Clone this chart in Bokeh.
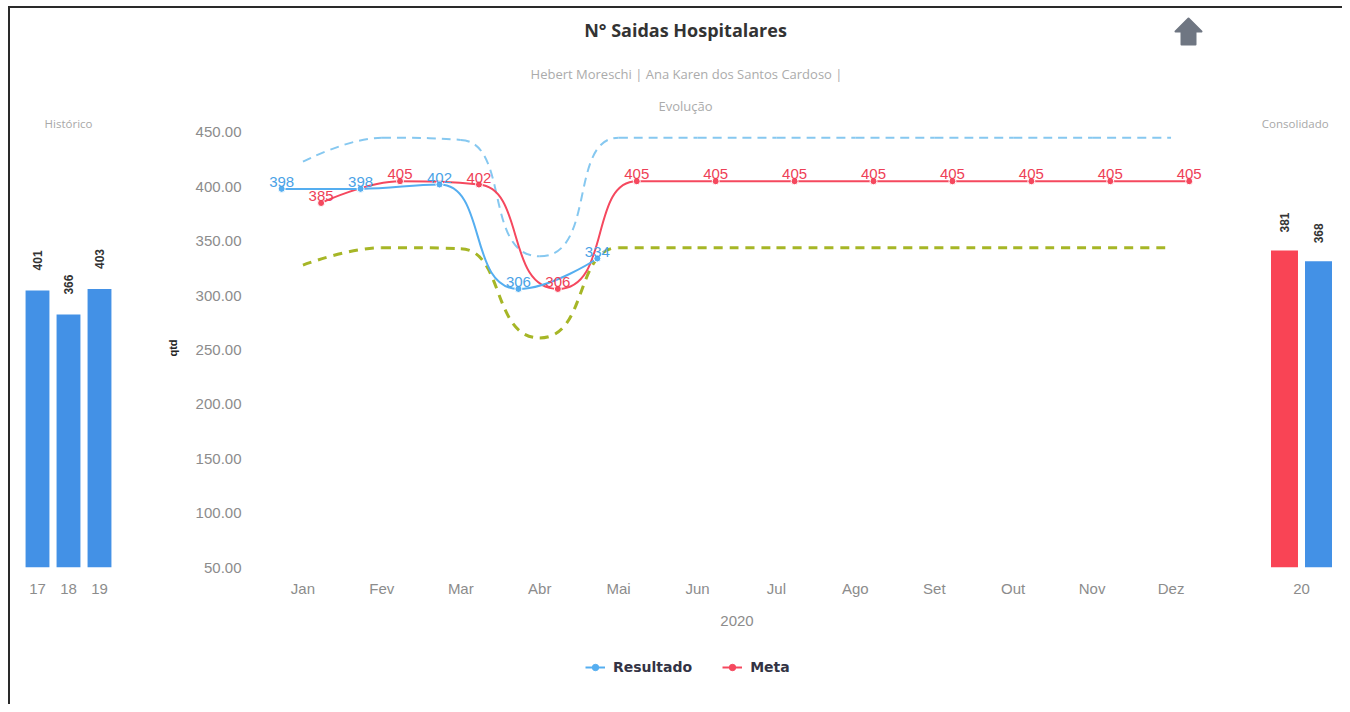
import math
from bokeh.plotting import figure
from bokeh.layouts import column, row
from bokeh.models import Range1d, FixedTicker, NumeralTickFormatter, Legend, LegendItem
from bokeh.core.properties import value
from bokeh.embed import file_html
from bokeh.resources import INLINE

# ---------------- data ----------------
months = ["Jan", "Fev", "Mar", "Abr", "Mai", "Jun", "Jul", "Ago", "Set", "Out", "Nov", "Dez"]
resultado = [398, 398, 402, 306, 334]
meta = [385, 405, 402, 306, 405, 405, 405, 405, 405, 405, 405, 405]
limite_sup = [423, 445, 443, 336, 445, 445, 445, 445, 445, 445, 445, 445]
limite_inf = [328, 344, 343, 261, 344, 344, 344, 344, 344, 344, 344, 344]
y_ticks = [50, 100, 150, 200, 250, 300, 350, 400, 450]

hist_anos = ["17", "18", "19"]
hist_valores = [401, 366, 403]

consol_ano = ["20"]
consol_meta = [381]
consol_resultado = [368]

title_txt = "N° Saidas Hospitalares"
subtitle_txt = "Hebert Moreschi | Ana Karen dos Santos Cardoso |"

# ---------------- styles ----------------
C_RES = "#55aef0"
C_META = "#f5485e"
C_SUP = "#86c8f0"
C_INF = "#a6b626"
C_BAR_BLUE = "#4391e6"
C_BAR_RED = "#f94455"
GRAY = "#8c8c8c"
FONT = value("Liberation Sans")

# geometry (px, page coordinates)
OX, OY = 10, 8          # content origin (after margin + border)
FRAME_TOP = 128
FRAME_BOT = 567
ROW_TOP = 117
ROW_BOT = 704
ROW_H = ROW_BOT - ROW_TOP
LEG_TOP = 640
SPLIT_L = 150
SPLIT_R = 1240
FRAME_L = 263
FRAME_R = 1210


def spline(xs, ys, sx, sy, smoothing=1.5):
    P = [(x * sx, y * sy) for x, y in zip(xs, ys)]
    n = len(P)
    L = [None] * n
    R = [None] * n
    d = smoothing + 1
    for i in range(1, n - 1):
        lx, ly = P[i - 1]
        px, py = P[i]
        nx, ny = P[i + 1]
        lcx = (smoothing * px + lx) / d
        lcy = (smoothing * py + ly) / d
        rcx = (smoothing * px + nx) / d
        rcy = (smoothing * py + ny) / d
        dl = math.hypot(lcx - px, lcy - py)
        dr = math.hypot(rcx - px, rcy - py)
        la = math.atan2(lcy - py, lcx - px)
        ra = math.atan2(rcy - py, rcx - px)
        corr = math.pi / 2 + (la + ra) / 2
        if abs(la - corr) > math.pi / 2:
            corr -= math.pi
        lcx = px + math.cos(corr) * dl
        lcy = py + math.sin(corr) * dl
        rcx = px + math.cos(math.pi + corr) * dr
        rcy = py + math.sin(math.pi + corr) * dr
        if lcy > ly and lcy > py:
            lcy = max(ly, py)
            rcy = 2 * py - lcy
        elif lcy < ly and lcy < py:
            lcy = min(ly, py)
            rcy = 2 * py - lcy
        if rcy > ny and rcy > py:
            rcy = max(ny, py)
            lcy = 2 * py - rcy
        elif rcy < ny and rcy < py:
            rcy = min(ny, py)
            lcy = 2 * py - rcy
        L[i] = (lcx, lcy)
        R[i] = (rcx, rcy)
    seg = dict(x0=[], y0=[], x1=[], y1=[], cx0=[], cy0=[], cx1=[], cy1=[])
    for i in range(1, n):
        a = P[i - 1]
        b = P[i]
        c0 = R[i - 1] if R[i - 1] is not None else a
        c1 = L[i] if L[i] is not None else b
        seg["x0"].append(a[0] / sx); seg["y0"].append(a[1] / sy)
        seg["x1"].append(b[0] / sx); seg["y1"].append(b[1] / sy)
        seg["cx0"].append(c0[0] / sx); seg["cy0"].append(c0[1] / sy)
        seg["cx1"].append(c1[0] / sx); seg["cy1"].append(c1[1] / sy)
    return seg


def clean(p):
    p.outline_line_color = None
    p.grid.visible = False
    p.background_fill_color = "white"
    p.border_fill_color = "white"


# ---------------- header ----------------
hd = figure(width=1342 - OX, height=ROW_TOP - OY, x_range=Range1d(OX, 1342), y_range=Range1d(ROW_TOP, OY),
            output_backend="svg", toolbar_location=None, min_border=0, title=None,
            x_axis_location=None, y_axis_location=None)
clean(hd)
hd.text(x=[685], y=[29], text=[title_txt], text_font=value("Open Sans"), text_font_style="bold",
        text_font_size="18px", text_color="#333333", text_align="center", text_baseline="middle")
hd.text(x=[686], y=[73], text=[subtitle_txt], text_font=value("Open Sans"),
        text_font_size="13px", text_color="#ababab", text_align="center", text_baseline="middle")
hd.text(x=[685], y=[105], text=["Evolução"], text_font=value("Open Sans"),
        text_font_size="13px", text_color="#ababab", text_align="center", text_baseline="middle")
hd.patch(x=[1188, 1201, 1195, 1195, 1181, 1181, 1175], y=[18, 31, 31, 44, 44, 31, 31],
         fill_color="#6f7682", line_color="#6f7682", line_width=2, line_join="round")

# ---------------- center chart ----------------
SX = (FRAME_R - FRAME_L) / 12.0
SY = 1.088
Y0, Y1 = 50, 50 + (FRAME_BOT - FRAME_TOP) / SY

p = figure(width=SPLIT_R - SPLIT_L, height=LEG_TOP - ROW_TOP, x_range=Range1d(-0.5, 11.5),
           y_range=Range1d(Y0, Y1), output_backend="svg", toolbar_location=None, title=None,
           min_border_left=FRAME_L - SPLIT_L, min_border_right=SPLIT_R - FRAME_R,
           min_border_top=FRAME_TOP - ROW_TOP, min_border_bottom=LEG_TOP - FRAME_BOT)
clean(p)

OFF_RES = -0.27
OFF_META = 0.23
xi_all = list(range(len(months)))
x_res = [i + OFF_RES for i in range(len(resultado))]
x_meta = [i + OFF_META for i in range(len(meta))]

s_sup = spline(xi_all, limite_sup, SX, SY)
p.bezier(source=s_sup, x0="x0", y0="y0", x1="x1", y1="y1", cx0="cx0", cy0="cy0", cx1="cx1", cy1="cy1",
         line_color=C_SUP, line_width=2, line_dash="9 6")
s_inf = spline(xi_all, limite_inf, SX, SY)
p.bezier(source=s_inf, x0="x0", y0="y0", x1="x1", y1="y1", cx0="cx0", cy0="cy0", cx1="cx1", cy1="cy1",
         line_color=C_INF, line_width=3, line_dash="9 7")

s_meta = spline(x_meta, meta, SX, SY)
p.bezier(source=s_meta, x0="x0", y0="y0", x1="x1", y1="y1", cx0="cx0", cy0="cy0", cx1="cx1", cy1="cy1",
         line_color=C_META, line_width=2)
s_res = spline(x_res, resultado, SX, SY)
p.bezier(source=s_res, x0="x0", y0="y0", x1="x1", y1="y1", cx0="cx0", cy0="cy0", cx1="cx1", cy1="cy1",
         line_color=C_RES, line_width=2)

p.scatter(x=x_meta, y=meta, size=7, fill_color=C_META, line_color="white", line_width=1)
p.scatter(x=x_res, y=resultado, size=7, fill_color=C_RES, line_color="white", line_width=1)

p.text(x=x_res, y=resultado, text=[str(v) for v in resultado], text_font=FONT, text_font_size="15px",
       text_color="#4aa2e6", text_align="center", text_baseline="middle", y_offset=-7)
p.text(x=x_meta, y=meta, text=[str(v) for v in meta], text_font=FONT, text_font_size="15px",
       text_color="#ee3f57", text_align="center", text_baseline="middle", y_offset=-7)

p.yaxis.ticker = FixedTicker(ticks=y_ticks)
p.yaxis.formatter = NumeralTickFormatter(format="0.00")
p.yaxis.axis_label = "qtd"
p.yaxis.axis_label_text_font = "Liberation Sans"
p.yaxis.axis_label_text_font_style = "bold"
p.yaxis.axis_label_text_font_size = "11px"
p.yaxis.axis_label_text_color = "#222222"
p.yaxis.axis_label_standoff = 14
p.yaxis.major_label_standoff = 16

p.xaxis.ticker = FixedTicker(ticks=xi_all)
p.xaxis.major_label_overrides = {i: m for i, m in enumerate(months)}
p.xaxis.axis_label = "2020"
p.xaxis.axis_label_text_font = "Liberation Sans"
p.xaxis.axis_label_text_font_style = "normal"
p.xaxis.axis_label_text_font_size = "15px"
p.xaxis.axis_label_text_color = GRAY
p.xaxis.axis_label_standoff = 16
p.xaxis.major_label_standoff = 6

for ax in (p.xaxis, p.yaxis):
    ax.axis_line_color = None
    ax.major_tick_line_color = None
    ax.minor_tick_line_color = None
    ax.major_label_text_color = GRAY
    ax.major_label_text_font = "Liberation Sans"
    ax.major_label_text_font_size = "15px"

# ---------------- legend strip (series proxies lie outside its 0..1 view) ----------------
lg = figure(width=SPLIT_R - SPLIT_L, height=ROW_BOT - LEG_TOP, x_range=Range1d(0, 1), y_range=Range1d(0, 1),
            output_backend="svg", toolbar_location=None, title=None, min_border=0,
            x_axis_location=None, y_axis_location=None)
clean(lg)
lr_line = lg.line(x=x_res, y=resultado, line_color=C_RES, line_width=2)
lr_dot = lg.scatter(x=x_res, y=resultado, size=8, fill_color=C_RES, line_color=C_RES, line_width=1)
lm_line = lg.line(x=x_meta, y=meta, line_color=C_META, line_width=2)
lm_dot = lg.scatter(x=x_meta, y=meta, size=8, fill_color=C_META, line_color=C_META, line_width=1)
legend = Legend(items=[LegendItem(label="Resultado", renderers=[lr_line, lr_dot]),
                       LegendItem(label="Meta", renderers=[lm_line, lm_dot])],
                location=(585 - SPLIT_L - 113, ROW_BOT - 675), orientation="horizontal",
                label_text_font="DejaVu Sans", label_text_font_style="bold",
                label_text_font_size="14px", label_text_color="#333344",
                border_line_color=None, background_fill_alpha=0,
                glyph_width=20, glyph_height=16, label_standoff=8, spacing=30, padding=0, margin=0)
lg.add_layout(legend)

center = column(p, lg, spacing=0)

# ---------------- left: Histórico ----------------
LSX = 31.0
L_C0 = 37.0
LSY = 0.691
lf = figure(width=SPLIT_L - OX, height=ROW_H,
            x_range=Range1d((OX - L_C0) / LSX, (SPLIT_L - L_C0) / LSX),
            y_range=Range1d(0, (FRAME_BOT - ROW_TOP) / LSY),
            output_backend="svg", toolbar_location=None, title=None,
            min_border_left=0, min_border_right=0, min_border_top=0,
            min_border_bottom=ROW_BOT - FRAME_BOT, y_axis_location=None)
clean(lf)
hx = list(range(len(hist_anos)))
lf.vbar(x=hx, top=hist_valores, width=0.77, fill_color=C_BAR_BLUE, line_color=None)
lf.text(x=hx, y=hist_valores, text=[str(v) for v in hist_valores], angle=math.pi / 2,
        text_font=FONT, text_font_style="bold", text_font_size="12px", text_color="#333333",
        text_align="left", text_baseline="middle", y_offset=-20)
lf.text(x=[1], y=[lf.y_range.end - 6 / LSY], text=["Histórico"], text_font=value("Open Sans"),
        text_font_size="11.5px", text_color="#a8a8a8", text_align="center", text_baseline="middle")
lf.xaxis.ticker = FixedTicker(ticks=hx)
lf.xaxis.major_label_overrides = {i: a for i, a in enumerate(hist_anos)}

# ---------------- right: Consolidado ----------------
RSX = 78.0
R_C0 = 1301.0
RSY = 0.832
rf = figure(width=1342 - SPLIT_R, height=ROW_H,
            x_range=Range1d((SPLIT_R - R_C0) / RSX, (1342 - R_C0) / RSX),
            y_range=Range1d(0, (FRAME_BOT - ROW_TOP) / RSY),
            output_backend="svg", toolbar_location=None, title=None,
            min_border_left=0, min_border_right=0, min_border_top=0,
            min_border_bottom=ROW_BOT - FRAME_BOT, y_axis_location=None)
clean(rf)
rf.vbar(x=[-0.218], top=consol_meta, width=0.346, fill_color=C_BAR_RED, line_color=None)
rf.vbar(x=[0.218], top=consol_resultado, width=0.346, fill_color=C_BAR_BLUE, line_color=None)
rf.text(x=[-0.218, 0.218], y=consol_meta + consol_resultado,
        text=[str(consol_meta[0]), str(consol_resultado[0])], angle=math.pi / 2,
        text_font=FONT, text_font_style="bold", text_font_size="12px", text_color="#333333",
        text_align="left", text_baseline="middle", y_offset=-18)
rf.text(x=[-0.08], y=[rf.y_range.end - 6 / RSY], text=["Consolidado"], text_font=value("Open Sans"),
        text_font_size="11.5px", text_color="#a8a8a8", text_align="center", text_baseline="middle")
rf.xaxis.ticker = FixedTicker(ticks=[0])
rf.xaxis.major_label_overrides = {0: consol_ano[0]}

for f in (lf, rf):
    ax = f.xaxis
    ax.axis_line_color = None
    ax.major_tick_line_color = None
    ax.minor_tick_line_color = None
    ax.major_label_text_color = GRAY
    ax.major_label_text_font = "Liberation Sans"
    ax.major_label_text_font_size = "15px"
    ax.major_label_standoff = 10

layout = column(hd, row(lf, center, rf, spacing=0), spacing=0,
                styles={"border-left": "2px solid #2a2a2a", "border-top": "2px solid #2a2a2a",
                        "margin-left": "8px", "margin-top": "6px"})

open("out.html", "w").write(file_html(layout, INLINE))
